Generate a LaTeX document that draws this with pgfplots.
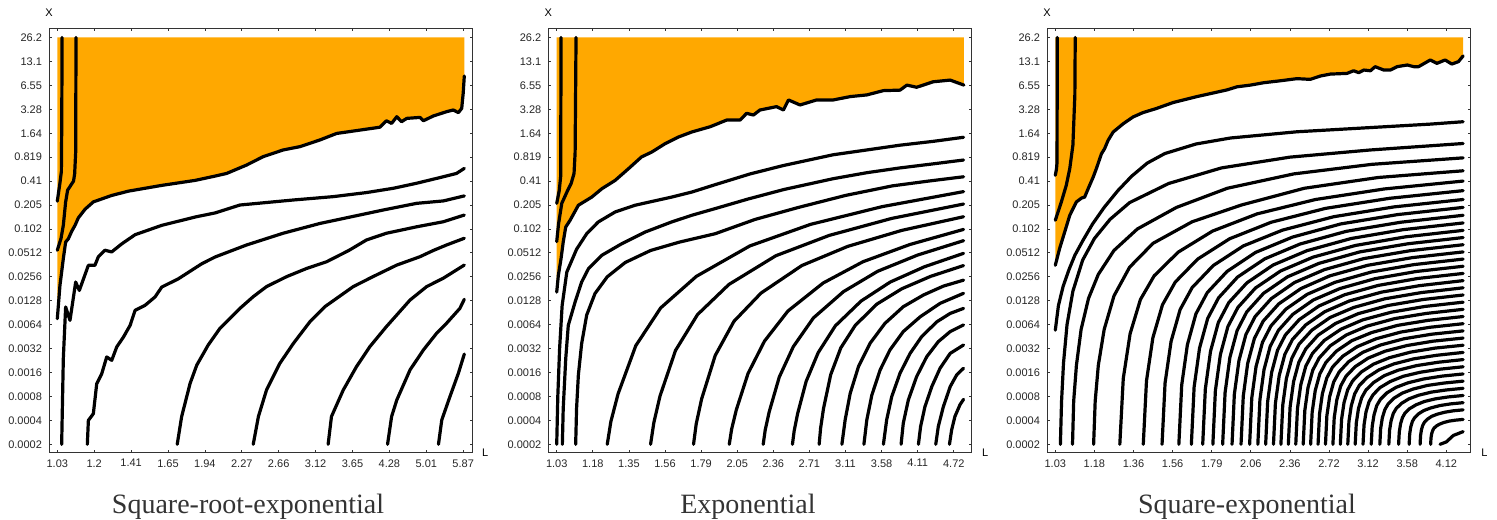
\documentclass[border=0pt]{standalone}
\usepackage{fontspec}
\setmainfont{Liberation Serif}
\newfontfamily\lsans{Liberation Sans}
\usepackage{pgfplots}
\pgfplotsset{compat=1.18}
\definecolor{myorange}{RGB}{255,168,0}
\pgfplotsset{
 panel/.style={
  scale only axis, height=212pt, anchor=south west,
  ymin=-0.334, ymax=17.384,
  ytick={0,...,17},
  yticklabels={0.0002,0.0004,0.0008,0.0016,0.0032,0.0064,0.0128,0.0256,0.0512,0.102,0.205,0.41,0.819,1.64,3.28,6.55,13.1,26.2},
  tick align=inside, major tick length=1.4pt,
  tick style={black!80, line width=0.4pt},
  axis line style={black!80, line width=0.5pt},
  ticklabel style={font=\lsans\fontsize{5.5}{6}\selectfont, text=black!85},
  clip=false,
 },
 ctr/.style={black, line width=1.6pt, line join=round, line cap=round},
 fillo/.style={fill=myorange, draw=none},
}
\begin{document}
\begin{tikzpicture}
\useasboundingbox (0,0) rectangle (748.5pt,-259.5pt);
% ---------------- Panel 1 ----------------
\begin{axis}[panel, at={(24.5pt,-226.15pt)}, width=211.65pt,
  xmin=-0.225, xmax=11.247, xtick={0,...,11},
  xticklabels={1.03,1.2,1.41,1.65,1.94,2.27,2.66,3.12,3.65,4.28,5.01,5.87}]
\addplot[fillo] coordinates {(0,5.25) (0.072,6.64) (0.163,7.76) (0.226,8.45) (0.30,8.59) (0.39,8.90) (0.48,9.15) (0.57,9.46) (0.75,9.82) (0.977,10.13) (1.475,10.40) (1.93,10.58) (2.83,10.82) (3.74,11.03) (4.28,11.21) (4.59,11.32) (5.13,11.67) (5.58,12.02) (6.12,12.30) (6.58,12.44) (7.12,12.72) (7.57,12.99) (8.02,13.09) (8.74,13.25) (8.92,13.52) (9.06,13.41) (9.20,13.69) (9.33,13.48) (9.47,13.62) (9.83,13.66) (9.92,13.52) (10.19,13.72) (10.55,13.90) (10.73,13.97) (10.87,13.86) (10.96,14.04) (11.0,14.67) (11.03,15.39) (11.03,17) (0,17)};
\addplot[ctr] coordinates {(0,5.25) (0.072,6.64) (0.163,7.76) (0.226,8.45) (0.30,8.59) (0.39,8.90) (0.48,9.15) (0.57,9.46) (0.75,9.82) (0.977,10.13) (1.475,10.40) (1.93,10.58) (2.83,10.82) (3.74,11.03) (4.28,11.21) (4.59,11.32) (5.13,11.67) (5.58,12.02) (6.12,12.30) (6.58,12.44) (7.12,12.72) (7.57,12.99) (8.02,13.09) (8.74,13.25) (8.92,13.52) (9.06,13.41) (9.20,13.69) (9.33,13.48) (9.47,13.62) (9.83,13.66) (9.92,13.52) (10.19,13.72) (10.55,13.90) (10.73,13.97) (10.87,13.86) (10.96,14.04) (11.0,14.67) (11.03,15.39)};
\addplot[ctr] coordinates {(0.13,17) (0.12,13.3) (0.11,11.4) (0.07,10.9) (0,10.16)};
\addplot[ctr] coordinates {(0.507,17) (0.498,12.21) (0.47,11.3) (0.44,11.0) (0.28,10.62) (0.226,10.13) (0.163,9.15) (0.1,8.6) (0,8.11)};
\addplot[ctr] coordinates {(0.118,0) (0.163,3.58) (0.226,5.74) (0.344,5.18) (0.498,6.78) (0.597,6.43) (0.842,7.48) (1.02,7.48) (1.11,7.83) (1.29,8.11) (1.475,8.04) (1.75,8.38) (2.11,8.76) (2.83,9.15) (3.74,9.50) (4.28,9.67) (4.95,10.0) (6.40,10.21) (7.48,10.35) (8.38,10.52) (9.11,10.70) (9.74,10.91) (10.46,11.18) (10.82,11.32) (11.03,11.53)};
\addplot[ctr] coordinates {(0.814,0) (0.842,1.0) (0.977,1.28) (1.068,2.53) (1.204,2.95) (1.339,3.65) (1.475,3.51) (1.611,4.07) (1.792,4.48) (1.973,4.97) (2.109,5.60) (2.38,5.81) (2.65,6.16) (2.83,6.57) (3.285,6.92) (3.92,7.55) (4.28,7.83) (5.13,8.33) (6.12,8.82) (7.12,9.23) (8.83,9.79) (9.74,10.07) (10.46,10.17) (11.03,10.38)};
\addplot[ctr] coordinates {(3.25,0) (3.37,1.16) (3.60,2.55) (3.78,3.31) (4.09,4.15) (4.41,4.85) (4.68,5.26) (4.95,5.68) (5.31,6.17) (5.67,6.59) (6.22,7.01) (6.76,7.35) (7.30,7.63) (7.9,8.1) (8.38,8.54) (8.92,8.82) (9.74,9.09) (10.46,9.30) (11.03,9.58)};
\addplot[ctr] coordinates {(5.31,0) (5.45,1.16) (5.67,2.27) (6.03,3.38) (6.40,4.22) (6.85,5.13) (7.25,5.75) (8.02,6.59) (8.56,7.01) (9.20,7.49) (9.83,7.84) (10.19,8.1) (10.55,8.33) (11.03,8.61)};
\addplot[ctr] coordinates {(7.34,0) (7.43,1.16) (7.75,2.27) (8.11,3.25) (8.47,4.08) (8.92,4.92) (9.56,6.03) (10.01,6.59) (10.46,6.94) (11.03,7.49)};
\addplot[ctr] coordinates {(8.95,0) (9.06,1.16) (9.20,1.85) (9.56,3.11) (9.92,3.94) (10.28,4.64) (10.55,5.06) (10.91,5.68) (11.03,6.06)};
\addplot[ctr] coordinates {(10.33,0) (10.42,1.02) (10.64,1.99) (10.87,2.97) (11.03,3.77)};
\node[font=\lsans\fontsize{5.5}{6}\selectfont] at (rel axis cs:0,1) [yshift=8pt] {X};
\node[font=\lsans\fontsize{5.5}{6}\selectfont] at (rel axis cs:1,0) [xshift=6.4pt] {L};
\end{axis}
% ---------------- Panel 2 ----------------
\begin{axis}[panel, at={(274.15pt,-226.15pt)}, width=211.7pt,
  xmin=-0.233, xmax=11.496, xtick={0,...,11},
  xticklabels={1.03,1.18,1.35,1.56,1.79,2.05,2.36,2.71,3.11,3.58,4.11,4.72}]
\addplot[fillo] coordinates {(0,6.36) (0.045,7.06) (0.12,7.76) (0.18,8.45) (0.25,9.08) (0.37,9.36) (0.60,9.99) (0.97,10.33) (1.25,10.68) (1.62,11.03) (1.99,11.52) (2.35,12.01) (2.63,12.21) (3.0,12.56) (3.37,12.84) (3.74,13.05) (4.25,13.27) (4.71,13.55) (5.08,13.55) (5.26,13.83) (5.45,13.76) (5.63,13.97) (6.09,14.11) (6.28,13.97) (6.42,14.39) (6.74,14.18) (7.2,14.39) (7.66,14.39) (8.13,14.53) (8.59,14.6) (9.05,14.78) (9.51,14.8) (9.7,15.01) (9.97,14.92) (10.43,15.15) (10.9,15.22) (11.28,15.01) (11.28,17) (0,17)};
\addplot[ctr] coordinates {(0,6.36) (0.045,7.06) (0.12,7.76) (0.18,8.45) (0.25,9.08) (0.37,9.36) (0.60,9.99) (0.97,10.33) (1.25,10.68) (1.62,11.03) (1.99,11.52) (2.35,12.01) (2.63,12.21) (3.0,12.56) (3.37,12.84) (3.74,13.05) (4.25,13.27) (4.71,13.55) (5.08,13.55) (5.26,13.83) (5.45,13.76) (5.63,13.97) (6.09,14.11) (6.28,13.97) (6.42,14.39) (6.74,14.18) (7.2,14.39) (7.66,14.39) (8.13,14.53) (8.59,14.6) (9.05,14.78) (9.51,14.8) (9.7,15.01) (9.97,14.92) (10.43,15.15) (10.9,15.22) (11.28,15.01)};
\addplot[ctr] coordinates {(0.12,17) (0.11,11.2) (0.07,10.6) (0,10.07)};
\addplot[ctr] coordinates {(0.535,17) (0.51,12.2) (0.48,11.32) (0.40,10.9) (0.30,10.6) (0.14,10.07) (0.05,9.2) (0,8.47)};
\addplot[ctr] coordinates {(0,0) (0.03,2.0) (0.08,4.0) (0.15,5.8) (0.28,7.2) (0.55,8.15) (0.83,8.8) (1.15,9.29) (1.62,9.71) (2.17,9.99) (3.18,10.33) (3.74,10.54) (4.39,10.85) (5.36,11.3) (6.28,11.65) (7.66,12.1) (8.59,12.3) (9.51,12.5) (10.43,12.66) (11.27,12.83)};
\addplot[ctr] coordinates {(0.156,0) (0.18,1.49) (0.25,3.58) (0.32,4.97) (0.51,5.95) (0.69,6.78) (0.88,7.34) (1.25,7.9) (1.80,8.38) (2.45,8.87) (3.18,9.29) (3.74,9.57) (4.39,9.85) (5.3,10.25) (6.3,10.65) (7.66,11.1) (8.59,11.35) (9.51,11.55) (10.43,11.72) (11.27,11.88)};
\addplot[ctr] coordinates {(0.525,0) (0.55,1.5) (0.6,2.9) (0.69,4.2) (0.83,5.4) (1.06,6.3) (1.4,7.0) (1.9,7.6) (2.6,8.1) (3.4,8.45) (4.39,8.8) (5.5,9.4) (6.7,9.9) (8.0,10.4) (9.3,10.8) (10.3,11.0) (11.27,11.18)};
\addplot[ctr] coordinates {(1.40,0) (1.50,0.95) (1.70,2.11) (2.19,4.12) (2.88,5.70) (3.87,7.02) (5.35,8.29) (7.03,9.19) (9.01,9.93) (11.27,10.56)};
\addplot[ctr] coordinates {(2.60,0) (2.69,0.90) (2.86,2.01) (3.29,3.92) (3.90,5.42) (4.77,6.68) (6.07,7.88) (7.55,8.73) (9.28,9.44) (11.27,10.04)};
\addplot[ctr] coordinates {(3.79,0) (3.865,0.86) (4.015,1.90) (4.39,3.71) (4.91,5.14) (5.66,6.32) (6.79,7.47) (8.06,8.27) (9.56,8.94) (11.27,9.51)};
\addplot[ctr] coordinates {(4.78,0) (4.845,0.63) (4.975,1.44) (5.30,2.96) (5.755,4.31) (6.405,5.57) (7.38,6.74) (8.485,7.63) (9.785,8.35) (11.27,8.98)};
\addplot[ctr] coordinates {(5.72,0) (5.776,0.60) (5.887,1.36) (6.165,2.81) (6.554,4.08) (7.11,5.28) (7.944,6.38) (8.89,7.23) (10.0,7.91) (11.27,8.51)};
\addplot[ctr] coordinates {(6.53,0) (6.578,0.56) (6.673,1.28) (6.91,2.63) (7.243,3.83) (7.718,4.95) (8.43,5.985) (9.238,6.78) (10.188,7.42) (11.27,7.98)};
\addplot[ctr] coordinates {(7.27,0) (7.31,0.67) (7.39,1.49) (7.59,2.91) (7.87,4.03) (8.27,4.97) (8.87,5.86) (9.56,6.50) (10.36,7.02) (11.27,7.47)};
\addplot[ctr] coordinates {(7.90,0) (7.99,1.02) (8.13,2.13) (8.36,3.25) (8.68,4.22) (9.09,5.05) (9.60,5.75) (10.16,6.24) (10.71,6.61) (11.27,6.86)};
\addplot[ctr] coordinates {(8.51,0) (8.59,1.02) (8.73,2.06) (8.96,3.11) (9.23,3.94) (9.60,4.71) (10.07,5.33) (10.62,5.89) (11.27,6.31)};
\addplot[ctr] coordinates {(9.05,0) (9.14,1.02) (9.28,1.99) (9.51,2.97) (9.79,3.8) (10.11,4.5) (10.53,5.12) (10.9,5.47) (11.27,5.68)};
\addplot[ctr] coordinates {(9.54,0) (9.60,0.88) (9.74,1.85) (9.97,2.83) (10.25,3.66) (10.57,4.29) (10.9,4.71) (11.27,4.99)};
\addplot[ctr] coordinates {(10.02,0) (10.08,0.74) (10.20,1.57) (10.39,2.41) (10.62,3.18) (10.9,3.8) (11.27,4.15)};
\addplot[ctr] coordinates {(10.50,0) (10.57,0.74) (10.71,1.57) (10.90,2.41) (11.08,2.9) (11.27,3.18)};
\addplot[ctr] coordinates {(10.88,0) (10.94,0.6) (11.03,1.16) (11.17,1.65) (11.27,1.88)};
\node[font=\lsans\fontsize{5.5}{6}\selectfont] at (rel axis cs:0,1) [yshift=8pt] {X};
\node[font=\lsans\fontsize{5.5}{6}\selectfont] at (rel axis cs:1,0) [xshift=6.7pt] {L};
\end{axis}
% ---------------- Panel 3 ----------------
\begin{axis}[panel, at={(523.5pt,-226.15pt)}, width=211.65pt,
  xmin=-0.212, xmax=10.614, xtick={0,...,10},
  xticklabels={1.03,1.18,1.36,1.56,1.79,2.06,2.36,2.72,3.12,3.58,4.12}]
\addplot[fillo] coordinates {(0,7.48) (0.11,8.18) (0.24,8.87) (0.37,9.57) (0.54,10.13) (0.67,10.29) (0.75,10.33) (0.84,10.68) (0.97,11.17) (1.05,11.52) (1.18,12.14) (1.26,12.35) (1.35,12.70) (1.48,13.05) (1.74,13.40) (1.99,13.68) (2.24,13.86) (2.58,14.03) (3.01,14.28) (3.62,14.53) (4.39,14.81) (4.65,14.94) (4.99,15.01) (5.33,15.11) (5.75,15.19) (6.18,15.28) (6.52,15.25) (6.78,15.39) (7.03,15.47) (7.46,15.50) (7.63,15.61) (7.76,15.53) (7.89,15.64) (8.06,15.61) (8.18,15.78) (8.40,15.64) (8.57,15.64) (8.74,15.78) (9.0,15.85) (9.17,15.78) (9.29,15.78) (9.59,16.06) (9.76,15.92) (9.97,16.06) (10.14,15.89) (10.31,15.99) (10.43,16.23) (10.43,17) (0,17)};
\addplot[ctr] coordinates {(0,7.48) (0.11,8.18) (0.24,8.87) (0.37,9.57) (0.54,10.13) (0.67,10.29) (0.75,10.33) (0.84,10.68) (0.97,11.17) (1.05,11.52) (1.18,12.14) (1.26,12.35) (1.35,12.70) (1.48,13.05) (1.74,13.40) (1.99,13.68) (2.24,13.86) (2.58,14.03) (3.01,14.28) (3.62,14.53) (4.39,14.81) (4.65,14.94) (4.99,15.01) (5.33,15.11) (5.75,15.19) (6.18,15.28) (6.52,15.25) (6.78,15.39) (7.03,15.47) (7.46,15.50) (7.63,15.61) (7.76,15.53) (7.89,15.64) (8.06,15.61) (8.18,15.78) (8.40,15.64) (8.57,15.64) (8.74,15.78) (9.0,15.85) (9.17,15.78) (9.29,15.78) (9.59,16.06) (9.76,15.92) (9.97,16.06) (10.14,15.89) (10.31,15.99) (10.43,16.23)};
\addplot[ctr] coordinates {(0.05,17) (0.045,11.8) (0.03,11.5) (0,11.24)};
\addplot[ctr] coordinates {(0.51,17) (0.50,14.6) (0.45,12.5) (0.37,11.52) (0.28,10.82) (0.155,10.13) (0,9.36)};
\addplot[ctr] coordinates {(0,4.77) (0.08,5.8) (0.2,6.6) (0.35,7.3) (0.5,7.9) (0.7,8.5) (0.95,9.2) (1.25,9.9) (1.6,10.6) (1.95,11.2) (2.35,11.75) (2.8,12.15) (3.6,12.55) (4.48,12.8) (6.18,13.06) (7.89,13.22) (9.59,13.38) (10.43,13.48)};
\addplot[ctr] coordinates {(0.13,0) (0.16,1.8) (0.21,3.4) (0.3,5.0) (0.45,6.4) (0.7,7.7) (1.0,8.6) (1.4,9.4) (1.9,10.1) (2.9,10.9) (4.25,11.55) (6.0,12.0) (8.06,12.3) (10.43,12.57)};
\addplot[ctr] coordinates {(0.44,0) (0.47,1.8) (0.54,3.3) (0.66,4.8) (0.85,6.1) (1.1,7.1) (1.5,8.1) (2.1,9.0) (3.1,9.9) (4.4,10.7) (6.1,11.3) (8.1,11.7) (10.43,11.97)};
\addplot[ctr] coordinates {(0.98,0) (1.02,1.8) (1.1,3.3) (1.25,4.8) (1.5,6.2) (1.9,7.4) (2.5,8.4) (3.5,9.3) (4.76,10.0) (6.37,10.7) (8.26,11.15) (10.43,11.43)};
\addplot[ctr] coordinates {(1.65,0) (1.738,2.75) (1.913,4.62) (2.177,6.05) (2.528,7.04) (3.143,8.03) (4.021,8.91) (5.162,9.63) (6.655,10.23) (8.411,10.67) (10.43,11.0)};
\addplot[ctr] coordinates {(2.25,0) (2.332,2.65) (2.495,4.45) (2.741,5.83) (3.068,6.78) (3.641,7.74) (4.459,8.59) (5.522,9.28) (6.913,9.86) (8.549,10.28) (10.43,10.6)};
\addplot[ctr] coordinates {(2.73,0) (2.807,2.56) (2.961,4.30) (3.192,5.63) (3.50,6.55) (4.039,7.47) (4.809,8.29) (5.81,8.95) (7.119,9.51) (8.659,9.92) (10.43,10.23)};
\addplot[ctr] coordinates {(3.16,0) (3.233,2.48) (3.378,4.16) (3.596,5.45) (3.887,6.34) (4.396,7.23) (5.123,8.02) (6.068,8.66) (7.304,9.21) (8.758,9.60) (10.43,9.9)};
\addplot[ctr] coordinates {(3.48,0) (3.550,2.39) (3.689,4.02) (3.897,5.26) (4.175,6.12) (4.662,6.99) (5.357,7.75) (6.26,8.37) (7.442,8.90) (8.832,9.28) (10.43,9.57)};
\addplot[ctr] coordinates {(3.77,0) (3.837,2.31) (3.970,3.89) (4.170,5.09) (4.436,5.92) (4.902,6.75) (5.568,7.49) (6.434,8.09) (7.566,8.60) (8.898,8.97) (10.43,9.25)};
\addplot[ctr] coordinates {(4.03,0) (4.094,2.24) (4.222,3.75) (4.414,4.92) (4.67,5.72) (5.118,6.53) (5.758,7.24) (6.59,7.82) (7.678,8.31) (8.958,8.67) (10.43,8.94)};
\addplot[ctr] coordinates {(4.28,0) (4.342,2.16) (4.465,3.63) (4.649,4.75) (4.895,5.53) (5.326,6.31) (5.941,7.0) (6.74,7.56) (7.786,8.04) (9.016,8.38) (10.43,8.64)};
\addplot[ctr] coordinates {(4.52,0) (4.579,2.09) (4.697,3.50) (4.875,4.59) (5.111,5.34) (5.525,6.09) (6.116,6.76) (6.884,7.30) (7.889,7.76) (9.071,8.09) (10.43,8.34)};
\addplot[ctr] coordinates {(4.75,0) (4.807,2.01) (4.920,3.38) (5.091,4.42) (5.318,5.15) (5.716,5.87) (6.284,6.51) (7.022,7.04) (7.988,7.48) (9.124,7.80) (10.43,8.04)};
\addplot[ctr] coordinates {(4.97,0) (5.025,1.94) (5.134,3.25) (5.298,4.26) (5.516,4.95) (5.898,5.65) (6.444,6.27) (7.154,6.77) (8.082,7.20) (9.174,7.51) (10.43,7.74)};
\addplot[ctr] coordinates {(5.18,0) (5.233,1.86) (5.338,3.12) (5.495,4.09) (5.705,4.76) (6.073,5.43) (6.598,6.03) (7.28,6.51) (8.173,6.92) (9.223,7.22) (10.43,7.44)};
\addplot[ctr] coordinates {(5.38,0) (5.431,1.79) (5.532,3.0) (5.683,3.93) (5.885,4.57) (6.239,5.21) (6.744,5.78) (7.40,6.25) (8.259,6.64) (9.269,6.93) (10.43,7.14)};
\addplot[ctr] coordinates {(5.58,0) (5.629,1.71) (5.726,2.87) (5.871,3.76) (6.065,4.38) (6.405,4.99) (6.89,5.54) (7.52,5.99) (8.345,6.36) (9.315,6.63) (10.43,6.84)};
\addplot[ctr] coordinates {(5.77,0) (5.817,1.64) (5.910,2.75) (6.050,3.60) (6.236,4.19) (6.562,4.77) (7.028,5.30) (7.634,5.72) (8.426,6.08) (9.358,6.34) (10.43,6.54)};
\addplot[ctr] coordinates {(5.96,0) (6.005,1.56) (6.094,2.62) (6.228,3.43) (6.407,3.99) (6.72,4.56) (7.167,5.05) (7.748,5.46) (8.508,5.80) (9.402,6.05) (10.43,6.24)};
\addplot[ctr] coordinates {(6.15,0) (6.193,1.49) (6.278,2.49) (6.407,3.27) (6.578,3.80) (6.878,4.34) (7.306,4.81) (7.862,5.20) (8.59,5.52) (9.446,5.76) (10.43,5.94)};
\addplot[ctr] coordinates {(6.34,0) (6.381,1.41) (6.463,2.37) (6.585,3.10) (6.749,3.61) (7.035,4.12) (7.444,4.57) (7.976,4.94) (8.671,5.25) (9.489,5.47) (10.43,5.64)};
\addplot[ctr] coordinates {(6.53,0) (6.569,1.34) (6.647,2.24) (6.764,2.94) (6.92,3.42) (7.193,3.90) (7.583,4.33) (8.09,4.67) (8.753,4.97) (9.533,5.18) (10.43,5.34)};
\addplot[ctr] coordinates {(6.72,0) (6.757,1.26) (6.831,2.12) (6.943,2.77) (7.091,3.23) (7.351,3.68) (7.722,4.08) (8.204,4.41) (8.835,4.69) (9.577,4.89) (10.43,5.04)};
\addplot[ctr] coordinates {(6.91,0) (6.945,1.19) (7.016,1.99) (7.121,2.61) (7.262,3.03) (7.508,3.46) (7.86,3.84) (8.318,4.15) (8.916,4.41) (9.62,4.60) (10.43,4.74)};
\addplot[ctr] coordinates {(7.10,0) (7.133,1.11) (7.20,1.86) (7.30,2.44) (7.433,2.84) (7.666,3.24) (7.999,3.60) (8.432,3.89) (8.998,4.13) (9.664,4.31) (10.43,4.44)};
\addplot[ctr] coordinates {(7.29,0) (7.321,1.04) (7.384,1.74) (7.478,2.28) (7.604,2.65) (7.824,3.02) (8.138,3.35) (8.546,3.62) (9.08,3.85) (9.708,4.02) (10.43,4.14)};
\addplot[ctr] coordinates {(7.48,0) (7.51,0.96) (7.569,1.61) (7.657,2.11) (7.775,2.46) (7.982,2.80) (8.277,3.11) (8.66,3.36) (9.162,3.57) (9.752,3.72) (10.43,3.84)};
\addplot[ctr] coordinates {(7.67,0) (7.698,0.89) (7.753,1.49) (7.836,1.95) (7.946,2.27) (8.139,2.58) (8.415,2.87) (8.774,3.10) (9.243,3.29) (9.795,3.43) (10.43,3.54)};
\addplot[ctr] coordinates {(7.87,0) (7.896,0.81) (7.947,1.36) (8.024,1.78) (8.126,2.07) (8.305,2.37) (8.561,2.62) (8.894,2.84) (9.329,3.01) (9.841,3.14) (10.43,3.24)};
\addplot[ctr] coordinates {(8.08,0) (8.104,0.74) (8.151,1.23) (8.221,1.62) (8.315,1.88) (8.48,2.15) (8.715,2.38) (9.02,2.57) (9.42,2.73) (9.89,2.85) (10.43,2.94)};
\addplot[ctr] coordinates {(8.30,0) (8.321,0.66) (8.364,1.11) (8.428,1.45) (8.513,1.69) (8.662,1.93) (8.875,2.14) (9.152,2.31) (9.514,2.46) (9.94,2.56) (10.43,2.64)};
\addplot[ctr] coordinates {(8.53,0) (8.549,0.59) (8.587,0.98) (8.644,1.29) (8.72,1.50) (8.853,1.71) (9.043,1.90) (9.29,2.05) (9.613,2.18) (9.993,2.27) (10.43,2.34)};
\addplot[ctr] coordinates {(8.78,0) (8.797,0.51) (8.83,0.86) (8.879,1.12) (8.945,1.31) (9.061,1.49) (9.226,1.65) (9.44,1.79) (9.721,1.90) (10.051,1.98) (10.43,2.04)};
\addplot[ctr] coordinates {(9.05,0) (9.064,0.44) (9.091,0.73) (9.133,0.96) (9.188,1.11) (9.285,1.27) (9.423,1.41) (9.602,1.52) (9.837,1.62) (10.113,1.69) (10.43,1.74)};
\addplot[ctr] coordinates {(9.33,0) (9.341,0.36) (9.363,0.60) (9.396,0.79) (9.44,0.92) (9.517,1.05) (9.627,1.17) (9.77,1.26) (9.957,1.34) (10.177,1.40) (10.43,1.44)};
\addplot[ctr] coordinates {(9.60,0) (9.608,0.26) (9.625,0.44) (9.65,0.57) (9.683,0.67) (9.741,0.76) (9.824,0.84) (9.932,0.91) (10.073,0.97) (10.239,1.01) (10.43,1.04)};
\addplot[ctr] coordinates {(9.84,0) (10.0,0.1) (10.18,0.37) (10.43,0.53)};
\node[font=\lsans\fontsize{5.5}{6}\selectfont] at (rel axis cs:0,1) [yshift=8pt] {X};
\node[font=\lsans\fontsize{5.5}{6}\selectfont] at (rel axis cs:1,0) [xshift=7pt] {L};
\end{axis}
\node[font=\fontsize{14}{16}\selectfont, text=black!80, anchor=base] at (124pt,-256.7pt) {Square-root-exponential};
\node[font=\fontsize{14}{16}\selectfont, text=black!80, anchor=base] at (374pt,-256.7pt) {Exponential};
\node[font=\fontsize{14}{16}\selectfont, text=black!80, anchor=base] at (623.5pt,-256.7pt) {Square-exponential};
\end{tikzpicture}
\end{document}
